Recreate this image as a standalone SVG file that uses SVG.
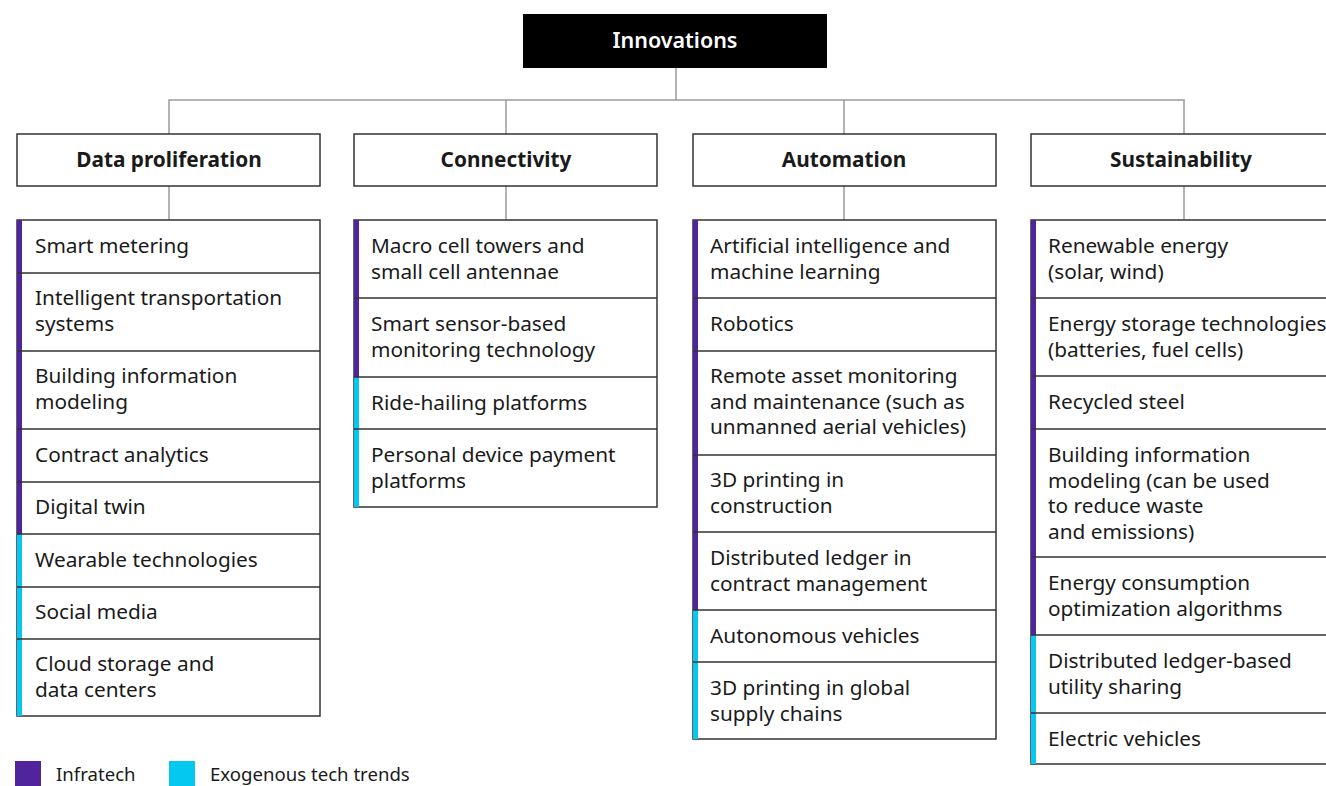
<svg xmlns="http://www.w3.org/2000/svg" width="1326" height="786" viewBox="0 0 1326 786">
  <style>
    .lbl { font-family: "Noto Sans", "Open Sans", sans-serif; font-size: 20.8px; fill: #1a1a1a; }
    .hdr { font-family: "Noto Sans", "Open Sans", sans-serif; font-size: 20.8px; font-weight: bold; fill: #1a1a1a; text-anchor: middle; }
    .leg { font-family: "Noto Sans", "Open Sans", sans-serif; font-size: 18.6px; fill: #1a1a1a; }
    .box { fill: #ffffff; stroke: #333333; stroke-width: 1.5; }
    .row { fill: none; stroke: #333333; stroke-width: 1.5; }
    .infra { fill: #51239c; }
    .exo { fill: #05c8f0; }
    .conn { fill: none; stroke: #9a9a9a; stroke-width: 1.5; }
  </style>

  <rect width="1326" height="786" fill="#ffffff"/>

  <!-- connectors -->
  <g id="connectors">
    <path class="conn" d="M676 68 V100 M169 134 V100 H1184 V134 M506 100 V134 M844 100 V134"/>
    <path class="conn" d="M169 186 V220 M506 186 V220 M844 186 V220 M1184 186 V220"/>
  </g>

  <!-- root -->
  <g id="innovations">
    <rect x="523" y="14" width="304" height="54" fill="#000000"/>
    <text x="675" y="48" class="hdr" style="fill:#ffffff;font-weight:600;font-size:21.5px">Innovations</text>
  </g>

  <!-- category headers -->
  <g id="hdr-data">
    <rect class="box" x="17" y="134" width="303" height="52"/>
    <text class="hdr" x="169" y="167">Data proliferation</text>
  </g>
  <g id="hdr-connectivity">
    <rect class="box" x="354" y="134" width="303" height="52"/>
    <text class="hdr" x="506" y="167">Connectivity</text>
  </g>
  <g id="hdr-automation">
    <rect class="box" x="693" y="134" width="303" height="52"/>
    <text class="hdr" x="844" y="167">Automation</text>
  </g>
  <g id="hdr-sustainability">
    <rect class="box" x="1031" y="134" width="305" height="52"/>
    <text class="hdr" x="1181" y="167">Sustainability</text>
  </g>

  <!-- Data proliferation list -->
  <g id="list-data">
    <rect class="box" x="17" y="220" width="303" height="496"/>
    <rect class="infra" x="17" y="220" width="5" height="314"/>
    <rect class="exo" x="17" y="534" width="5" height="182"/>
    <path class="row" d="M17 273 H320 M17 351 H320 M17 429 H320 M17 482 H320 M17 534 H320 M17 587 H320 M17 639 H320"/>
    <text class="lbl" x="35" y="253">Smart metering</text>
    <text class="lbl" x="35" y="305">Intelligent transportation<tspan x="35" dy="25.5">systems</tspan></text>
    <text class="lbl" x="35" y="383">Building information<tspan x="35" dy="25.5">modeling</tspan></text>
    <text class="lbl" x="35" y="462">Contract analytics</text>
    <text class="lbl" x="35" y="514">Digital twin</text>
    <text class="lbl" x="35" y="567">Wearable technologies</text>
    <text class="lbl" x="35" y="619">Social media</text>
    <text class="lbl" x="35" y="671">Cloud storage and<tspan x="35" dy="25.5">data centers</tspan></text>
  </g>

  <!-- Connectivity list -->
  <g id="list-connectivity">
    <rect class="box" x="354" y="220" width="303" height="287"/>
    <rect class="infra" x="354" y="220" width="5" height="157"/>
    <rect class="exo" x="354" y="377" width="5" height="130"/>
    <path class="row" d="M354 298 H657 M354 377 H657 M354 429 H657"/>
    <text class="lbl" x="371" y="253">Macro cell towers and<tspan x="371" dy="25.5">small cell antennae</tspan></text>
    <text class="lbl" x="371" y="331">Smart sensor-based<tspan x="371" dy="25.5">monitoring technology</tspan></text>
    <text class="lbl" x="371" y="410">Ride-hailing platforms</text>
    <text class="lbl" x="371" y="462">Personal device payment<tspan x="371" dy="25.5">platforms</tspan></text>
  </g>

  <!-- Automation list -->
  <g id="list-automation">
    <rect class="box" x="693" y="220" width="303" height="519"/>
    <rect class="infra" x="693" y="220" width="5" height="390"/>
    <rect class="exo" x="693" y="610" width="5" height="129"/>
    <path class="row" d="M693 298 H996 M693 351 H996 M693 455 H996 M693 532 H996 M693 610 H996 M693 662 H996"/>
    <text class="lbl" x="710" y="253">Artificial intelligence and<tspan x="710" dy="25.5">machine learning</tspan></text>
    <text class="lbl" x="710" y="331">Robotics</text>
    <text class="lbl" x="710" y="383">Remote asset monitoring<tspan x="710" dy="25.5">and maintenance (such as</tspan><tspan x="710" dy="25.5">unmanned aerial vehicles)</tspan></text>
    <text class="lbl" x="710" y="487">3D printing in<tspan x="710" dy="25.5">construction</tspan></text>
    <text class="lbl" x="710" y="565">Distributed ledger in<tspan x="710" dy="25.5">contract management</tspan></text>
    <text class="lbl" x="710" y="643">Autonomous vehicles</text>
    <text class="lbl" x="710" y="695">3D printing in global<tspan x="710" dy="25.5">supply chains</tspan></text>
  </g>

  <!-- Sustainability list -->
  <g id="list-sustainability">
    <rect class="box" x="1031" y="220" width="305" height="544"/>
    <rect class="infra" x="1031" y="220" width="5" height="415"/>
    <rect class="exo" x="1031" y="635" width="5" height="129"/>
    <path class="row" d="M1031 298 H1336 M1031 376 H1336 M1031 429 H1336 M1031 557 H1336 M1031 635 H1336 M1031 713 H1336"/>
    <text class="lbl" x="1048" y="253">Renewable energy<tspan x="1048" dy="25.5">(solar, wind)</tspan></text>
    <text class="lbl" x="1048" y="331">Energy storage technologies<tspan x="1048" dy="25.5">(batteries, fuel cells)</tspan></text>
    <text class="lbl" x="1048" y="409">Recycled steel</text>
    <text class="lbl" x="1048" y="462">Building information<tspan x="1048" dy="25.5">modeling (can be used</tspan><tspan x="1048" dy="25.5">to reduce waste</tspan><tspan x="1048" dy="25.5">and emissions)</tspan></text>
    <text class="lbl" x="1048" y="590">Energy consumption<tspan x="1048" dy="25.5">optimization algorithms</tspan></text>
    <text class="lbl" x="1048" y="668">Distributed ledger-based<tspan x="1048" dy="25.5">utility sharing</tspan></text>
    <text class="lbl" x="1048" y="746">Electric vehicles</text>
  </g>

  <!-- legend -->
  <g id="legend">
    <rect class="infra" x="15" y="761" width="26" height="26"/>
    <text class="leg" x="56" y="781">Infratech</text>
    <rect class="exo" x="169" y="761" width="26" height="26"/>
    <text class="leg" x="210" y="781">Exogenous tech trends</text>
  </g>
</svg>
